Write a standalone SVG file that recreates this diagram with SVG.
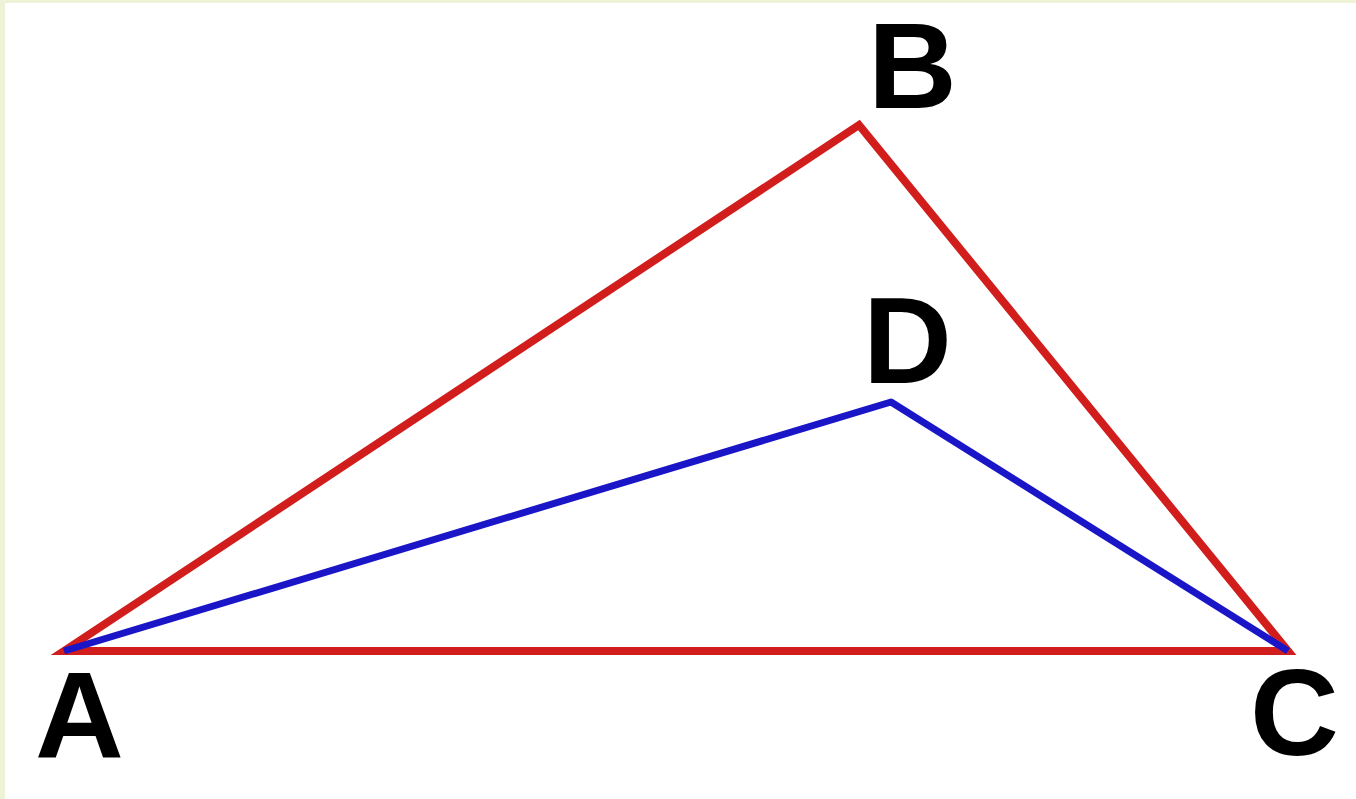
<svg xmlns="http://www.w3.org/2000/svg" width="1356" height="799" viewBox="0 0 1356 799">
  <style>
    .red { fill: none; stroke: #d21d1d; stroke-width: 8; stroke-linejoin: miter; }
    .blue { fill: none; stroke: #1a16c8; stroke-width: 7; stroke-linejoin: round; }
    .lbl { font-family: "Liberation Sans", Arial, sans-serif; font-weight: bold; font-size: 123px; fill: #000; }
  </style>
  <rect x="0" y="0" width="1356" height="799" fill="#ffffff"/>
  <rect x="0" y="0" width="1356" height="3" fill="#eef2d6"/>
  <rect x="0" y="0" width="5" height="799" fill="#eef2d6"/>
  <g id="connectors">
    <polygon class="red" points="64,651 859,125 1288,651"/>
    <polyline class="blue" points="64,651 891,402 1288,651"/>
  </g>
  <g id="A"><text class="lbl" x="35" y="758">A</text></g>
  <g id="B"><text class="lbl" x="868" y="108">B</text></g>
  <g id="C"><text class="lbl" x="1250" y="755">C</text></g>
  <g id="D"><text class="lbl" x="863" y="383">D</text></g>
</svg>
